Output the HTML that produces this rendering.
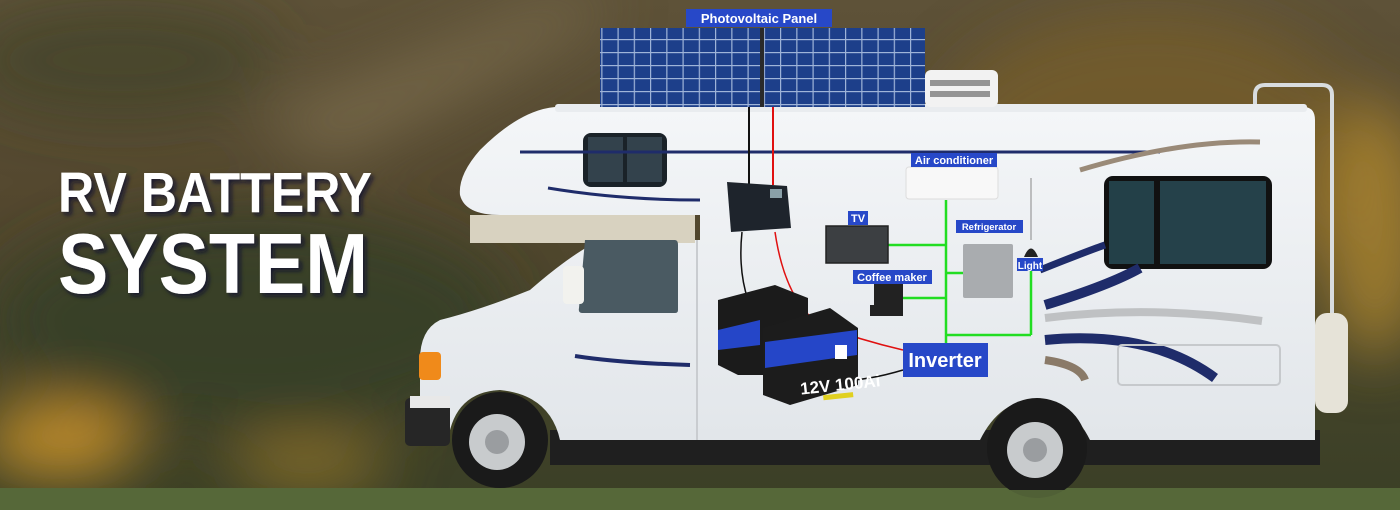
<!DOCTYPE html>
<html><head><meta charset="utf-8"><style>html,body{margin:0;padding:0;width:1400px;height:510px;overflow:hidden;background:#4a4230}</style></head>
<body>
<svg width="1400" height="510" viewBox="0 0 1400 510" xmlns="http://www.w3.org/2000/svg" font-family="Liberation Sans, sans-serif">
<defs>
<linearGradient id="bg" x1="0" y1="0" x2="0" y2="1">
<stop offset="0" stop-color="#5e5238"/><stop offset="0.4" stop-color="#54482f"/><stop offset="0.75" stop-color="#434329"/><stop offset="1" stop-color="#3a3f26"/></linearGradient>
<linearGradient id="body" x1="0" y1="0" x2="0" y2="1"><stop offset="0" stop-color="#f4f6f8"/><stop offset="1" stop-color="#e2e6ea"/></linearGradient>
<pattern id="pv" width="16.25" height="13" patternUnits="userSpaceOnUse"><rect width="16.25" height="13" fill="#1d3f8a"/><rect width="16.25" height="1.2" fill="#9fb4d8"/><rect width="1.2" height="13" fill="#9fb4d8"/></pattern>
<filter id="sh"><feDropShadow dx="3" dy="3" stdDeviation="2" flood-color="#0a1030" flood-opacity="0.8"/></filter>
<filter id="bl" x="-50%" y="-50%" width="200%" height="200%"><feGaussianBlur stdDeviation="30"/></filter>
</defs>
<rect width="1400" height="510" fill="url(#bg)"/>
<g filter="url(#bl)">
<path d="M250 120 Q420 60 560 0 H620 Q480 90 330 160 Z" fill="#8a7a58" opacity="0.6"/>
<ellipse cx="120" cy="60" rx="160" ry="60" fill="#3a4028" opacity="0.6"/>
<ellipse cx="1150" cy="150" rx="220" ry="140" fill="#7a6028" opacity="0.7"/>
<ellipse cx="1375" cy="230" rx="50" ry="130" fill="#b08a30" opacity="0.8"/>
<ellipse cx="250" cy="320" rx="260" ry="110" fill="#343e26" opacity="0.8"/>
<ellipse cx="60" cy="440" rx="80" ry="35" fill="#c8922a"/>
<ellipse cx="310" cy="465" rx="80" ry="20" fill="#b08a2a" opacity="0.8"/>
</g>
<rect y="488" width="1400" height="22" fill="#56683a"/>
<!-- title -->
<g fill="#fff" font-weight="bold" filter="url(#sh)">
<text x="58" y="212" font-size="57" textLength="314" lengthAdjust="spacingAndGlyphs">RV BATTERY</text>
<text x="58" y="293" font-size="85" textLength="310" lengthAdjust="spacingAndGlyphs">SYSTEM</text>
</g>
<!-- ladder -->
<path d="M1255 107 V95 Q1255 85 1265 85 H1322 Q1332 85 1332 95 V380" stroke="#d8dcdf" stroke-width="4" fill="none"/>
<rect x="550" y="430" width="770" height="35" fill="#1f1f1f"/>
<!-- RV body -->
<path d="M555 107 H1305 Q1315 108 1315 120 V440 H1090 Q1070 400 1035 400 Q1000 400 980 440 H560 Q550 395 500 390 Q455 392 448 440 H420 V360 Q420 330 440 320 Q480 310 530 290 Q570 255 600 240 H700 V215 H500 Q465 215 460 195 Q458 175 480 150 Q520 110 555 107 Z" fill="url(#body)"/>
<rect x="555" y="104" width="752" height="8" rx="3" fill="#e9ecef"/>
<rect x="470" y="215" width="225" height="28" fill="#d8d2c0"/>
<rect x="405" y="398" width="45" height="48" rx="5" fill="#262626"/>
<rect x="410" y="396" width="40" height="12" fill="#e8e8e8"/>
<rect x="419" y="352" width="22" height="28" rx="4" fill="#f08a1a"/>
<rect x="1315" y="313" width="33" height="100" rx="12" fill="#e6e3d8"/>
<!-- windows -->
<rect x="583" y="133" width="84" height="54" rx="8" fill="#1a2228"/>
<rect x="588" y="137" width="35" height="45" fill="#33424c"/><rect x="627" y="137" width="35" height="45" fill="#33424c"/>
<rect x="1104" y="176" width="168" height="93" rx="9" fill="#111"/>
<rect x="1109" y="181" width="45" height="83" fill="#234048"/><rect x="1160" y="181" width="106" height="83" fill="#25414a"/>
<path d="M585 240 H675 Q678 240 678 245 V310 Q678 313 675 313 H582 Q578 313 579 308 Z" fill="#4a5a62"/>
<rect x="563" y="266" width="21" height="38" rx="4" fill="#f2f2ee"/>
<line x1="697" y1="240" x2="697" y2="440" stroke="#c9ccd0" stroke-width="2"/>
<!-- stripes -->
<path d="M520 152 H1160" stroke="#1f2c6a" stroke-width="3"/>
<path d="M548 188 Q620 200 700 200" stroke="#1f2c6a" stroke-width="3" fill="none"/>
<path d="M575 356 Q620 363 690 365" stroke="#1f2c6a" stroke-width="4" fill="none"/>
<path d="M1080 170 Q1180 140 1260 142" stroke="#9a8a78" stroke-width="5" fill="none"/>
<path d="M1040 270 Q1090 250 1105 245" stroke="#1f2c6a" stroke-width="7" fill="none"/>
<path d="M1045 305 Q1110 285 1140 268" stroke="#1f2c6a" stroke-width="10" fill="none"/>
<path d="M1045 318 Q1150 305 1262 321" stroke="#bfc1c3" stroke-width="8" fill="none"/>
<path d="M1045 340 Q1150 330 1215 378" stroke="#1f2c6a" stroke-width="10" fill="none"/>
<path d="M1045 360 Q1080 365 1085 380" stroke="#8a7a68" stroke-width="8" fill="none"/>
<rect x="1118" y="345" width="162" height="40" rx="4" fill="none" stroke="#c6c9cc" stroke-width="2"/>
<!-- wheels -->
<circle cx="500" cy="440" r="48" fill="#1a1a1a"/><circle cx="497" cy="442" r="28" fill="#c8cbcd"/><circle cx="497" cy="442" r="12" fill="#9a9da0"/>
<circle cx="1037" cy="448" r="50" fill="#1a1a1a"/><circle cx="1035" cy="450" r="28" fill="#c8cbcd"/><circle cx="1035" cy="450" r="12" fill="#9a9da0"/>
<rect y="490" width="1400" height="20" fill="#56683a" opacity="0.9"/>
<!-- solar panel -->
<rect x="925" y="70" width="73" height="37" rx="6" fill="#f2f2f2"/>
<g fill="#555"><rect x="930" y="80" width="60" height="6" opacity="0.6"/><rect x="930" y="91" width="60" height="6" opacity="0.6"/></g>
<rect x="600" y="28" width="325" height="79" fill="url(#pv)"/>
<rect x="760" y="28" width="4" height="79" fill="#2a2a2a"/>
<rect x="686" y="9" width="146" height="18" fill="#2748c8"/>
<text x="759" y="23" font-size="13" font-weight="bold" fill="#fff" text-anchor="middle">Photovoltaic Panel</text>
<!-- wires -->
<line x1="749" y1="107" x2="749" y2="185" stroke="#111" stroke-width="2"/>
<line x1="773" y1="107" x2="773" y2="185" stroke="#e01010" stroke-width="2"/>
<path d="M742 232 Q738 270 748 300 Q760 340 790 368 Q830 392 903 370" stroke="#111" stroke-width="1.5" fill="none"/>
<path d="M775 232 Q785 300 820 325 Q860 340 903 350" stroke="#e01010" stroke-width="1.5" fill="none"/>
<path d="M727 182 L787 186 L791 228 L731 232 Z" fill="#1e242c"/>
<rect x="770" y="189" width="12" height="9" fill="#8aa0a8"/>
<!-- batteries -->
<path d="M718 300 L775 285 L808 298 V345 L790 375 L738 375 L718 365 Z" fill="#1b1b1b"/>
<path d="M718 330 L760 320 V345 L718 350 Z" fill="#2546c8"/>
<path d="M763 328 L830 308 L858 328 V385 L790 405 L763 395 Z" fill="#1c1c1c"/>
<path d="M765 342 L857 330 V355 L765 368 Z" fill="#2546c8"/>
<rect x="835" y="345" width="12" height="14" fill="#fff"/>
<text x="800" y="392" font-size="17" font-weight="bold" fill="#fff" transform="rotate(-6 825 385)">12V 100Ai</text>
<rect x="822" y="395" width="30" height="5" fill="#e0d020" transform="rotate(-6 825 385)"/>
<!-- green lines -->
<g stroke="#22dd22" stroke-width="2.5" fill="none">
<line x1="946" y1="200" x2="946" y2="343"/>
<line x1="888" y1="245" x2="946" y2="245"/>
<line x1="903" y1="298" x2="946" y2="298"/>
<line x1="946" y1="273" x2="963" y2="273"/>
<line x1="946" y1="335" x2="1031" y2="335"/>
<line x1="1031" y1="270" x2="1031" y2="335"/>
</g>
<rect x="906" y="167" width="92" height="32" rx="3" fill="#f8f8f8" stroke="#ddd"/>
<rect x="826" y="226" width="62" height="37" fill="#3c3f42" stroke="#222" stroke-width="1.5"/>
<path d="M874 283 H903 V316 H870 V305 H874 Z" fill="#222"/>
<rect x="963" y="244" width="50" height="54" rx="2" fill="#a9acaf"/>
<line x1="1031" y1="178" x2="1031" y2="240" stroke="#888" stroke-width="1"/>
<path d="M1024 257 Q1031 240 1038 257 Z" fill="#222"/>
<g fill="#2748c8">
<rect x="911" y="153" width="86" height="14"/>
<rect x="848" y="211" width="20" height="14"/>
<rect x="853" y="270" width="79" height="14"/>
<rect x="956" y="220" width="67" height="13"/>
<rect x="1017" y="258" width="26" height="13"/>
<rect x="903" y="343" width="85" height="34"/>
</g>
<g fill="#fff" font-weight="bold" text-anchor="middle">
<text x="954" y="164" font-size="11">Air conditioner</text>
<text x="858" y="222" font-size="11">TV</text>
<text x="892" y="281" font-size="11">Coffee maker</text>
<text x="989" y="230" font-size="9.5">Refrigerator</text>
<text x="1030" y="269" font-size="10">Light</text>
<text x="945" y="367" font-size="20">Inverter</text>
</g>
</svg>
</body></html>
